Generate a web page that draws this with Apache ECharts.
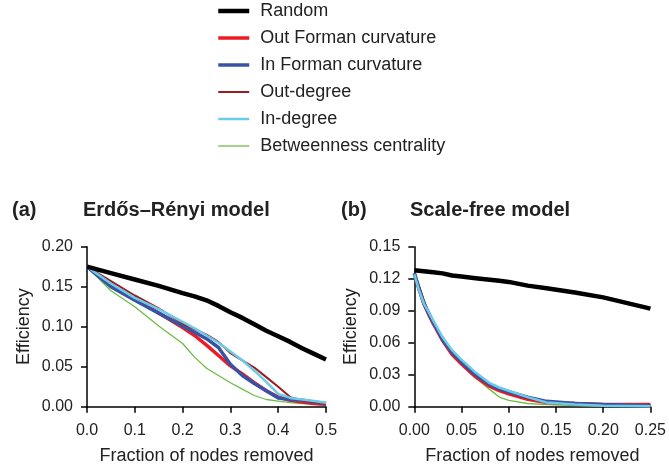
<!DOCTYPE html>
<html>
<head>
<meta charset="utf-8">
<script src="https://cdn.jsdelivr.net/npm/echarts@6/dist/echarts.min.js"></script>
<style>
  html, body { margin: 0; padding: 0; background: #fff; }
  #chart { width: 669px; height: 470px; }
</style>
</head>
<body>
<div id="chart"></div>
<script>
// series names, legend order
var names = ['Random', 'Out Forman curvature', 'In Forman curvature', 'Out-degree', 'In-degree', 'Betweenness centrality'];

// (a) Erdős–Rényi model
var erX = [0, 0.05, 0.1, 0.15, 0.2, 0.225, 0.25, 0.275, 0.3, 0.325, 0.35, 0.375, 0.4, 0.425, 0.45, 0.475, 0.5];
var erRandom  = [0.175, 0.167, 0.159, 0.151, 0.142, 0.138, 0.133, 0.126, 0.118, 0.111, 0.103, 0.095, 0.088, 0.081, 0.073, 0.066, 0.059];
var erOutForm = [0.175, 0.153, 0.135, 0.117, 0.099, 0.089, 0.077, 0.064, 0.051, 0.041, 0.030, 0.020, 0.012, 0.008, 0.006, 0.004, 0.003];
var erInForm  = [0.175, 0.150, 0.133, 0.117, 0.101, 0.093, 0.085, 0.074, 0.053, 0.039, 0.029, 0.020, 0.011, 0.009, 0.008, 0.006, 0.004];
var erOutDeg  = [0.175, 0.157, 0.139, 0.123, 0.104, 0.097, 0.090, 0.081, 0.067, 0.058, 0.049, 0.037, 0.025, 0.012, 0.008, 0.006, 0.004];
var erInDeg   = [0.175, 0.154, 0.136, 0.122, 0.106, 0.098, 0.089, 0.080, 0.069, 0.058, 0.045, 0.031, 0.016, 0.011, 0.009, 0.007, 0.005];
var erBetw    = [0.175, 0.145, 0.125, 0.101, 0.079, 0.062, 0.048, 0.039, 0.030, 0.022, 0.014, 0.009, 0.007, 0.005, 0.004, 0.003, 0.002];

// (b) Scale-free model
var sfX = [0, 0.005, 0.01, 0.015, 0.02, 0.03, 0.04, 0.05, 0.065, 0.08, 0.09, 0.1, 0.12, 0.14, 0.17, 0.2, 0.25];
var sfRandom  = [0.128, 0.1275, 0.127, 0.1265, 0.126, 0.125, 0.123, 0.122, 0.1205, 0.119, 0.118, 0.117, 0.1135, 0.111, 0.107, 0.1025, 0.092];
var sfOutForm = [0.125, 0.110, 0.097, 0.087, 0.078, 0.062, 0.049, 0.040, 0.028, 0.019, 0.015, 0.012, 0.007, 0.004, 0.003, 0.002, 0.002];
var sfInForm  = [0.125, 0.111, 0.097, 0.088, 0.079, 0.063, 0.051, 0.042, 0.030, 0.021, 0.017, 0.014, 0.009, 0.005, 0.003, 0.002, 0.001];
var sfOutDeg  = [0.124, 0.113, 0.100, 0.089, 0.079, 0.062, 0.050, 0.041, 0.029, 0.020, 0.016, 0.013, 0.008, 0.004, 0.002, 0.001, 0.001];
var sfInDeg   = [0.124, 0.109, 0.097, 0.089, 0.081, 0.065, 0.053, 0.044, 0.032, 0.022, 0.018, 0.015, 0.009, 0.004, 0.002, 0.001, 0.0005];
var sfBetw    = [0.124, 0.108, 0.095, 0.085, 0.077, 0.061, 0.049, 0.039, 0.027, 0.016, 0.009, 0.006, 0.003, 0.002, 0.001, 0.0005, 0.0005];

var colors = { 'Random': '#000000', 'Out Forman curvature': '#ed1c24', 'In Forman curvature': '#3953a4',
  'Out-degree': '#9b1b1f', 'In-degree': '#6ccbe8', 'Betweenness centrality': '#6cbd45' };
var widths = { 'Random': 4.5, 'Out Forman curvature': 3.5, 'In Forman curvature': 3.5,
  'Out-degree': 2, 'In-degree': 2.5, 'Betweenness centrality': 1.3 };

var font = 'Liberation Sans, Arial, sans-serif';

function pairs(xs, ys) {
  var out = [];
  for (var i = 0; i < xs.length; i++) out.push([xs[i], ys[i]]);
  return out;
}

function mkSeries(name, idx, xs, ys) {
  return {
    name: name, type: 'line', xAxisIndex: idx, yAxisIndex: idx,
    data: pairs(xs, ys), symbol: 'none', showSymbol: false, animation: false,
    lineStyle: { color: colors[name], width: widths[name] },
    itemStyle: { color: colors[name] }
  };
}

// draw order: thin green at the back, black on top
var series = [
  mkSeries('Betweenness centrality', 0, erX, erBetw),
  mkSeries('Out Forman curvature', 0, erX, erOutForm),
  mkSeries('In Forman curvature', 0, erX, erInForm),
  mkSeries('Out-degree', 0, erX, erOutDeg),
  mkSeries('In-degree', 0, erX, erInDeg),
  mkSeries('Random', 0, erX, erRandom),
  mkSeries('Betweenness centrality', 1, sfX, sfBetw),
  mkSeries('Out Forman curvature', 1, sfX, sfOutForm),
  mkSeries('Out-degree', 1, sfX, sfOutDeg),
  mkSeries('In Forman curvature', 1, sfX, sfInForm),
  mkSeries('In-degree', 1, sfX, sfInDeg),
  mkSeries('Random', 1, sfX, sfRandom)
];

// legend entries: plain lines, each with its own thickness
var legendData = names.map(function (n) {
  return { name: n, lineStyle: { width: widths[n] } };
});

function xAxisOf(idx, max, interval, digits) {
  return {
    type: 'value', gridIndex: idx, min: 0, max: max, interval: interval,
    name: 'Fraction of nodes removed', nameLocation: 'middle', nameGap: 40,
    nameTextStyle: { fontFamily: font, fontSize: 18, color: '#222' },
    axisLine: { onZero: false, lineStyle: { color: '#000', width: 1.5 } },
    axisTick: { show: true, inside: false, length: 6, lineStyle: { color: '#000', width: 1.5 } },
    axisLabel: { fontFamily: font, fontSize: 16, color: '#222', margin: 16,
      formatter: function (v) { return v.toFixed(digits); } },
    splitLine: { show: false }
  };
}
function yAxisOf(idx, max, interval, gap) {
  return {
    type: 'value', gridIndex: idx, min: 0, max: max, interval: interval,
    name: 'Efficiency', nameLocation: 'middle', nameGap: gap,
    nameTextStyle: { fontFamily: font, fontSize: 18, color: '#222' },
    axisLine: { show: true, onZero: false, lineStyle: { color: '#000', width: 1.5 } },
    axisTick: { show: true, inside: false, length: 6, lineStyle: { color: '#000', width: 1.5 } },
    axisLabel: { fontFamily: font, fontSize: 16, color: '#222', margin: 14,
      formatter: function (v) { return v.toFixed(2); } },
    splitLine: { show: false }
  };
}

var titleStyle = { fontFamily: font, fontSize: 20, fontWeight: 'bold', color: '#222' };

var chart = echarts.init(document.getElementById('chart'), null, { renderer: 'canvas' });
chart.setOption({
  backgroundColor: '#fff',
  animation: false,
  title: [
    { text: '(a)', left: 12, top: 200, padding: 0, textStyle: titleStyle },
    { text: 'Erdős–Rényi model', left: 83, top: 200, padding: 0, textStyle: titleStyle },
    { text: '(b)', left: 341, top: 200, padding: 0, textStyle: titleStyle },
    { text: 'Scale-free model', left: 410, top: 200, padding: 0, textStyle: titleStyle }
  ],
  legend: {
    data: legendData, orient: 'vertical', left: 216, top: 2, padding: 0,
    itemWidth: 31, itemHeight: 14, itemGap: 9,
    itemStyle: { opacity: 0 },
    textStyle: { fontFamily: font, fontSize: 18, color: '#222', padding: [0, 0, 0, 6] }
  },
  grid: [
    { left: 87, top: 246.7, width: 239, height: 160 },
    { left: 414.3, top: 246.7, width: 240, height: 160 }
  ],
  xAxis: [xAxisOf(0, 0.5, 0.1, 1), xAxisOf(1, 0.25, 0.05, 2)],
  yAxis: [yAxisOf(0, 0.2, 0.05, 54), yAxisOf(1, 0.15, 0.03, 54)],
  series: series
});
</script>
</body>
</html>
